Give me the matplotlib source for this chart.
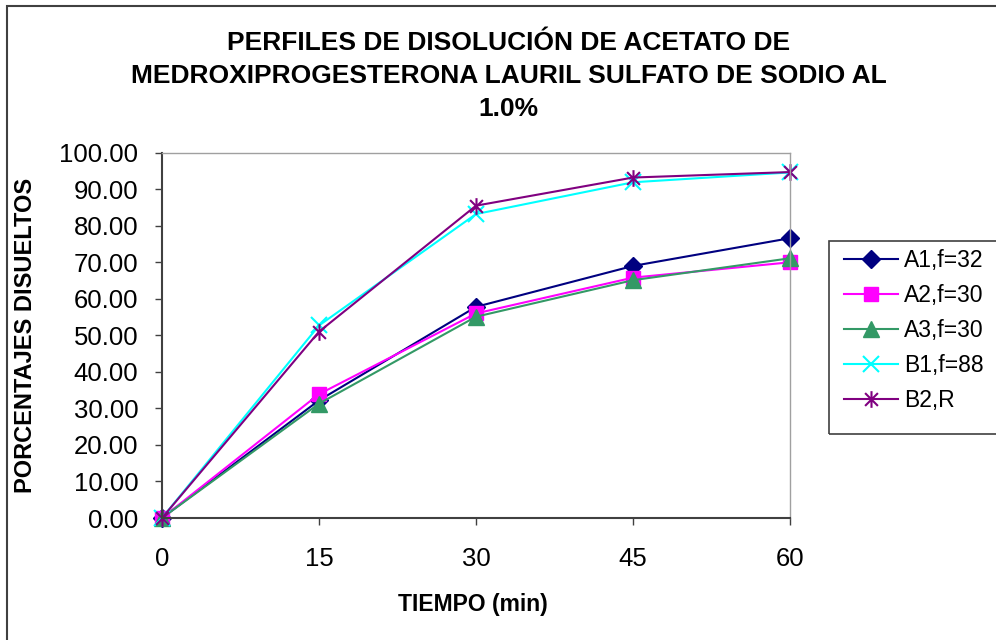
import matplotlib
matplotlib.use('Agg')
import matplotlib.pyplot as plt
from matplotlib.path import Path
from matplotlib.patches import Rectangle

plt.rcParams['font.family'] = ['Liberation Sans', 'DejaVu Sans']

# tiempo (min) y porcentajes disueltos
tiempo = [0, 15, 30, 45, 60]
a1 = [0.0, 32.2, 57.8, 69.0, 76.6]
a2 = [0.0, 33.9, 56.0, 65.8, 70.0]
a3 = [0.0, 31.3, 55.1, 65.1, 71.1]
b1 = [0.0, 52.7, 83.2, 91.9, 94.6]
b2 = [0.0, 51.0, 85.5, 93.2, 94.7]
etiquetas = ['A1,f=32', 'A2,f=30', 'A3,f=30', 'B1,f=88', 'B2,R']

W, H = 996, 640

# marcador estrella tipo Excel: X con linea vertical
star = Path([(-1, -1), (1, 1), (-1, 1), (1, -1), (0, -1.3), (0, 1.3)],
            [Path.MOVETO, Path.LINETO, Path.MOVETO, Path.LINETO, Path.MOVETO, Path.LINETO])

fig = plt.figure(figsize=(W / 100, H / 100), dpi=100)
ax = fig.add_axes([162 / W, 1 - 518 / H, (790 - 162) / W, (518 - 152.7) / H])

ax.plot(tiempo, a1, color='#000080', marker='D', markersize=9, lw=1.5, label=etiquetas[0])
ax.plot(tiempo, a2, color='#ff00ff', marker='s', markersize=10, lw=1.5, label=etiquetas[1])
ax.plot(tiempo, a3, color='#339966', marker='^', markersize=11, lw=1.5, label=etiquetas[2])
ax.plot(tiempo, b1, color='#00ffff', marker='x', markersize=11, mew=1.5, lw=1.5, label=etiquetas[3])
ax.plot(tiempo, b2, color='#800080', marker=star, markersize=12, mew=1.5, lw=1.5, label=etiquetas[4])

ax.set_xlim(0, 60)
ax.set_ylim(0, 100)
ax.set_xticks(tiempo)
ax.set_yticks(range(0, 101, 10))
ax.set_yticklabels(['%.2f' % v for v in range(0, 101, 10)])
ax.tick_params(labelsize=18.5, direction='out', length=5, color='#404040', width=1)
ax.tick_params(axis='y', pad=12)
ax.tick_params(axis='x', pad=16)
for s in ['left', 'bottom']:
    ax.spines[s].set_color('#404040')
    ax.spines[s].set_linewidth(1.5)
for s in ['top', 'right']:
    ax.spines[s].set_color('#a0a0a0')
    ax.spines[s].set_linewidth(1)
for l in ax.lines:
    l.set_clip_on(False)

ax.set_xlabel('TIEMPO (min)', fontsize=16.5, fontweight='bold', va='center')
ax.xaxis.set_label_coords(473 / W, 1 - 604 / H, transform=fig.transFigure)
ax.set_ylabel('PORCENTAJES DISUELTOS', fontsize=17, fontweight='bold', va='center')
ax.yaxis.set_label_coords(26 / W, 1 - 335.5 / H, transform=fig.transFigure)

fig.text(508.5 / W, 1 - 76 / H, 'PERFILES DE DISOLUCIÓN DE ACETATO DE\nMEDROXIPROGESTERONA LAURIL SULFATO DE SODIO AL\n1.0%',
         ha='center', va='center', fontsize=19, fontweight='bold', linespacing=1.47)

leg = ax.legend(loc='upper left', bbox_to_anchor=(844 / W, 1 - 249 / H),
                bbox_transform=fig.transFigure, fontsize=16.5, frameon=False,
                borderpad=0, labelspacing=0.52, handlelength=2.36, handletextpad=0.26,
                borderaxespad=0)

# marco de la leyenda (cortado por el borde derecho)
fig.patches.append(Rectangle((829 / W, 1 - 434 / H), 0.3, (434 - 241) / H, transform=fig.transFigure,
                             fill=False, edgecolor='#404040', lw=1.2))
# marco del grafico (cortado a la derecha y abajo)
fig.patches.append(Rectangle((7 / W, -0.1), 1.2, 1.1 - 6 / H, transform=fig.transFigure,
                             fill=False, edgecolor='#404040', lw=1.5))

fig.savefig('out.png', dpi=100)
